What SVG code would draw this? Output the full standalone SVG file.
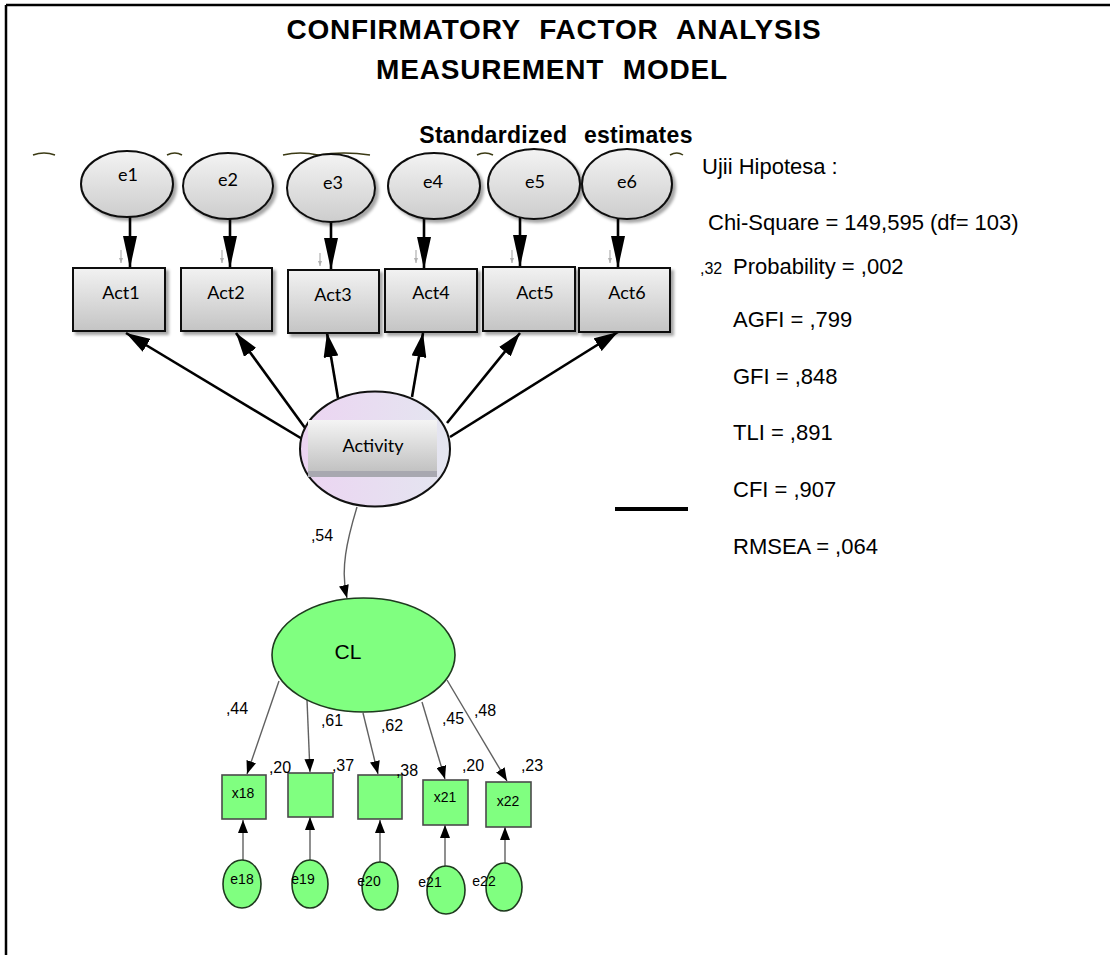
<svg xmlns="http://www.w3.org/2000/svg" width="1110" height="955" viewBox="0 0 1110 955">
<style>
text{font-family:"Liberation Sans",Arial,sans-serif;fill:#000}
.t{font-weight:bold;font-size:28px;text-anchor:middle;letter-spacing:0.8px;word-spacing:10px}
.cal{font-family:Lato,"Liberation Sans",sans-serif;font-size:18px;text-anchor:middle}
.stat{font-size:22px}
.ld{font-size:16px;text-anchor:middle}
.el{fill:url(#gGray);stroke:#111;stroke-width:2}
.box{fill:url(#gBox);stroke:#111;stroke-width:2}
.g{fill:#80ff80;stroke:#1f3a1f;stroke-width:1.6}
.gb{fill:#80ff80;stroke:#4a4a4a;stroke-width:1.6}
.lab{font-size:14px;text-anchor:middle}
.thick{stroke:#000;stroke-width:2.6;fill:none}
.thin{stroke:#606060;stroke-width:1.4;fill:none}
.cov{stroke:#3b3a14;stroke-width:1.5;fill:none}
.faint{stroke:#b0b0b0;stroke-width:1.2;fill:none}
</style>
<defs>
<linearGradient id="gGray" x1="0" y1="0" x2="0" y2="1"><stop offset="0" stop-color="#f3f3f3"/><stop offset="1" stop-color="#cdcdcd"/></linearGradient>
<linearGradient id="gBox" x1="0" y1="0" x2="0" y2="1"><stop offset="0" stop-color="#f2f2f2"/><stop offset="1" stop-color="#c4c4c4"/></linearGradient>
<linearGradient id="gAct" x1="0" y1="0" x2="1" y2="0"><stop offset="0" stop-color="#ecd4f2"/><stop offset="1" stop-color="#e4e6f0"/></linearGradient>
<linearGradient id="gIn" x1="0" y1="0" x2="0" y2="1"><stop offset="0" stop-color="#f4f4f4"/><stop offset="0.9" stop-color="#c2c2c2"/><stop offset="0.9" stop-color="#a8a8b0"/><stop offset="1" stop-color="#a8a8b0"/></linearGradient>
<filter id="sh" x="-20%" y="-20%" width="150%" height="150%"><feDropShadow dx="3" dy="3" stdDeviation="1.5" flood-color="#000" flood-opacity="0.35"/></filter>
<marker id="hN" markerUnits="userSpaceOnUse" viewBox="0 0 32 14" markerWidth="32" markerHeight="14" refX="32" refY="7" orient="auto"><path d="M0,0 L32,7 L0,14 z" fill="#000"/></marker>
<marker id="hA" markerUnits="userSpaceOnUse" viewBox="0 0 24 15" markerWidth="24" markerHeight="15" refX="24" refY="7.5" orient="auto"><path d="M0,0 L24,7.5 L0,15 z" fill="#000"/></marker>
<marker id="hS" markerUnits="userSpaceOnUse" viewBox="0 0 13 10" markerWidth="13" markerHeight="10" refX="13" refY="5" orient="auto"><path d="M0,0 L13,5 L0,10 z" fill="#000"/></marker>
<marker id="hF" markerUnits="userSpaceOnUse" viewBox="0 0 5 4" markerWidth="5" markerHeight="4" refX="5" refY="2" orient="auto"><path d="M0,0 L5,2 L0,4 z" fill="#b0b0b0"/></marker>
</defs>
<rect width="1110" height="955" fill="#fff"/>
<path d="M6,5 H1110 M6,5 V955" stroke="#000" stroke-width="2.5" fill="none"/>

<text class="t" x="554" y="39">CONFIRMATORY FACTOR ANALYSIS</text>
<text class="t" x="552" y="79">MEASUREMENT MODEL</text>
<text class="t" x="556" y="143" style="font-size:23px;letter-spacing:0.3px">Standardized estimates</text>

<g id="covariances">
<path class="cov" d="M33,155 Q44,151 55,155"/>
<path class="cov" d="M167,155 Q175,151 182,155"/>
<path class="cov" d="M283,155 Q300,151 318,155 Q344,151 370,155"/>
<path class="cov" d="M477,155 Q485,151 493,155"/>
<path class="cov" d="M670,155 Q677,151 683,155"/>
</g>

<g id="connectors">
<line class="thick" x1="130" y1="217" x2="130" y2="268" marker-end="url(#hN)"/>
<line class="thick" x1="230" y1="219" x2="230" y2="268" marker-end="url(#hN)"/>
<line class="thick" x1="331" y1="221" x2="331" y2="270" marker-end="url(#hN)"/>
<line class="thick" x1="424" y1="218" x2="424" y2="269" marker-end="url(#hN)"/>
<line class="thick" x1="520" y1="216" x2="520" y2="267" marker-end="url(#hN)"/>
<line class="thick" x1="618" y1="216" x2="618" y2="268" marker-end="url(#hN)"/>
<line class="faint" x1="121" y1="250" x2="121" y2="263" marker-end="url(#hF)"/>
<line class="faint" x1="222" y1="250" x2="222" y2="263" marker-end="url(#hF)"/>
<line class="faint" x1="320" y1="253" x2="320" y2="266" marker-end="url(#hF)"/>
<line class="faint" x1="416" y1="250" x2="416" y2="263" marker-end="url(#hF)"/>
<line class="faint" x1="512" y1="250" x2="512" y2="263" marker-end="url(#hF)"/>
<line class="faint" x1="610" y1="250" x2="610" y2="263" marker-end="url(#hF)"/>
<line class="thick" x1="304" y1="440" x2="126" y2="333" marker-end="url(#hA)"/>
<line class="thick" x1="308" y1="432" x2="236" y2="333" marker-end="url(#hA)"/>
<line class="thick" x1="338" y1="398" x2="327" y2="333" marker-end="url(#hA)"/>
<line class="thick" x1="412" y1="397" x2="423" y2="333" marker-end="url(#hA)"/>
<line class="thick" x1="447" y1="423" x2="520" y2="333" marker-end="url(#hA)"/>
<line class="thick" x1="450" y1="437" x2="618" y2="332" marker-end="url(#hA)"/>
<path class="thin" d="M357,507 C347,540 340,570 347,598" marker-end="url(#hS)"/>
<line class="thin" x1="279" y1="681" x2="247" y2="774" marker-end="url(#hS)"/>
<line class="thin" x1="307" y1="700" x2="310" y2="772" marker-end="url(#hS)"/>
<line class="thin" x1="363" y1="713" x2="378" y2="774" marker-end="url(#hS)"/>
<line class="thin" x1="422" y1="702" x2="445" y2="779" marker-end="url(#hS)"/>
<line class="thin" x1="447" y1="680" x2="507" y2="781" marker-end="url(#hS)"/>
<line class="thin" x1="243" y1="860" x2="243" y2="820" marker-end="url(#hS)"/>
<line class="thin" x1="310" y1="860" x2="310" y2="817" marker-end="url(#hS)"/>
<line class="thin" x1="380" y1="862" x2="380" y2="820" marker-end="url(#hS)"/>
<line class="thin" x1="445" y1="866" x2="445" y2="825" marker-end="url(#hS)"/>
<line class="thin" x1="505" y1="863" x2="505" y2="827" marker-end="url(#hS)"/>
</g>

<g id="e1"><ellipse class="el" filter="url(#sh)" cx="127" cy="184" rx="46" ry="33"/><text class="cal" x="128" y="181">e1</text></g>
<g id="e2"><ellipse class="el" filter="url(#sh)" cx="228" cy="186" rx="45" ry="33"/><text class="cal" x="228" y="186">e2</text></g>
<g id="e3"><ellipse class="el" filter="url(#sh)" cx="331" cy="188" rx="44" ry="34"/><text class="cal" x="333" y="189">e3</text></g>
<g id="e4"><ellipse class="el" filter="url(#sh)" cx="434" cy="186" rx="46" ry="33"/><text class="cal" x="433" y="188">e4</text></g>
<g id="e5"><ellipse class="el" filter="url(#sh)" cx="534" cy="184" rx="46" ry="35"/><text class="cal" x="535" y="188">e5</text></g>
<g id="e6"><ellipse class="el" filter="url(#sh)" cx="627" cy="184" rx="45" ry="35"/><text class="cal" x="627" y="188">e6</text></g>

<g id="Act1"><rect class="box" filter="url(#sh)" x="73" y="268" width="92" height="63"/><text class="cal" x="121" y="299">Act1</text></g>
<g id="Act2"><rect class="box" filter="url(#sh)" x="181" y="268" width="91" height="63"/><text class="cal" x="226" y="299">Act2</text></g>
<g id="Act3"><rect class="box" filter="url(#sh)" x="288" y="270" width="91" height="63"/><text class="cal" x="333" y="301">Act3</text></g>
<g id="Act4"><rect class="box" filter="url(#sh)" x="385" y="269" width="92" height="63"/><text class="cal" x="431" y="299">Act4</text></g>
<g id="Act5"><rect class="box" filter="url(#sh)" x="483" y="267" width="92" height="64"/><text class="cal" x="535" y="299">Act5</text></g>
<g id="Act6"><rect class="box" filter="url(#sh)" x="579" y="268" width="91" height="64"/><text class="cal" x="627" y="299">Act6</text></g>

<g id="Activity">
<ellipse cx="375" cy="449" rx="75" ry="57.5" fill="url(#gAct)" stroke="#111" stroke-width="2"/>
<rect x="308" y="420" width="129" height="57" fill="url(#gIn)"/>
<text class="cal" x="373" y="452">Activity</text>
</g>

<rect x="615" y="507" width="73" height="4" fill="#000"/>

<text class="ld" x="322" y="541">,54</text>

<g id="CL"><ellipse class="g" cx="363.5" cy="655" rx="91.5" ry="57"/><text x="348" y="659" style="font-size:21px;text-anchor:middle">CL</text></g>

<g id="x18"><rect class="gb" x="222" y="775" width="44" height="44"/><text class="lab" x="243" y="798">x18</text></g>
<g id="x19"><rect class="gb" x="288" y="773" width="45" height="44"/></g>
<g id="x20"><rect class="gb" x="358" y="775" width="44" height="44"/></g>
<g id="x21"><rect class="gb" x="423" y="780" width="45" height="45"/><text class="lab" x="445" y="802">x21</text></g>
<g id="x22"><rect class="gb" x="486" y="782" width="45" height="45"/><text class="lab" x="508" y="806">x22</text></g>

<g id="e18"><ellipse class="g" cx="242" cy="884" rx="19" ry="24"/><text class="lab" x="242" y="884">e18</text></g>
<g id="e19"><ellipse class="g" cx="310" cy="884" rx="18" ry="24"/><text class="lab" x="303" y="884">e19</text></g>
<g id="e20"><ellipse class="g" cx="380" cy="886" rx="18" ry="24"/><text class="lab" x="369" y="886">e20</text></g>
<g id="e21"><ellipse class="g" cx="446" cy="890" rx="19" ry="24"/><text class="lab" x="430" y="887">e21</text></g>
<g id="e22"><ellipse class="g" cx="504" cy="887" rx="18" ry="24"/><text class="lab" x="484" y="886">e22</text></g>

<g id="loadings">
<text class="ld" x="237" y="714">,44</text>
<text class="ld" x="332" y="726">,61</text>
<text class="ld" x="392" y="731">,62</text>
<text class="ld" x="453" y="724">,45</text>
<text class="ld" x="485" y="716">,48</text>
<text class="ld" x="280" y="773">,20</text>
<text class="ld" x="343" y="771">,37</text>
<text class="ld" x="407" y="776">,38</text>
<text class="ld" x="473" y="771">,20</text>
<text class="ld" x="532" y="771">,23</text>
</g>

<g id="stats">
<text class="stat" x="702" y="174">Ujii Hipotesa :</text>
<text class="stat" x="708" y="230">Chi-Square = 149,595 (df= 103)</text>
<text x="700" y="274" style="font-size:16px">,32</text>
<text class="stat" x="733" y="274">Probability = ,002</text>
<text class="stat" x="733" y="327">AGFI = ,799</text>
<text class="stat" x="733" y="384">GFI = ,848</text>
<text class="stat" x="733" y="440">TLI = ,891</text>
<text class="stat" x="733" y="497">CFI = ,907</text>
<text class="stat" x="733" y="554">RMSEA = ,064</text>
</g>
</svg>
